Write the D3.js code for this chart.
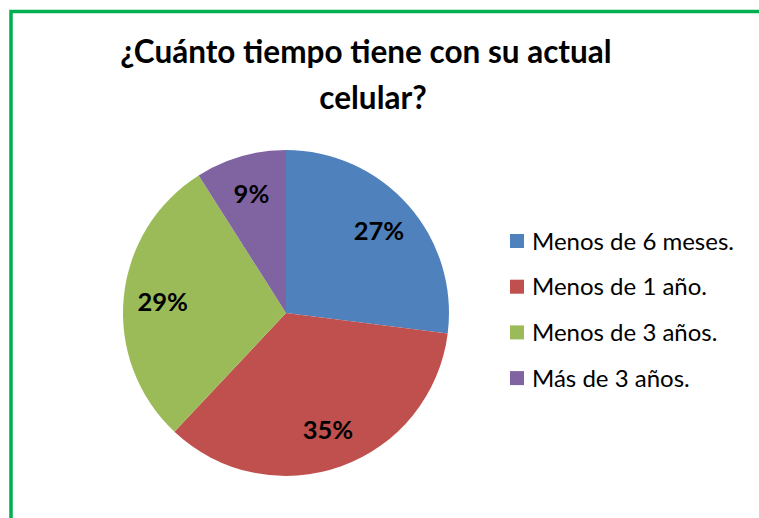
<!DOCTYPE html>
<html>
<head>
<meta charset="utf-8">
<script src="https://cdn.jsdelivr.net/npm/d3@7"></script>
<style>
  body { margin: 0; background: #fff; }
  text { font-family: Lato, "Open Sans", sans-serif; }
</style>
</head>
<body>
<div id="wrapper"></div>
<script>
const categories = ["Menos de 6 meses.", "Menos de 1 año.", "Menos de 3 años.", "Más de 3 años."]
const values = [27, 35, 29, 9]
const colors = ["#4F81BD", "#C0504D", "#9BBB59", "#8064A2"]
const titleLines = ["¿Cuánto tiempo tiene con su actual", "celular?"]

const dimensions = { width: 759, height: 518 }
const pieCenter = { x: 286, y: 313 }
const radius = 163

const svg = d3.select("#wrapper")
  .append("svg")
  .attr("width", dimensions.width)
  .attr("height", dimensions.height)

// green frame (continues past right and bottom edge)
svg.append("rect")
  .attr("x", 11)
  .attr("y", 11.5)
  .attr("width", 800)
  .attr("height", 600)
  .attr("fill", "none")
  .attr("stroke", "#00B050")
  .attr("stroke-width", 3.5)

// title
svg.append("g")
  .selectAll("text")
  .data(titleLines)
  .join("text")
  .attr("x", (d, i) => i === 0 ? 366 : 373)
  .attr("y", (d, i) => 63 + i * 46)
  .attr("text-anchor", "middle")
  .attr("font-size", 31.5)
  .attr("font-weight", "bold")
  .attr("fill", "#000")
  .text(d => d)

const data = values.map((v, i) => ({ name: categories[i], value: v, color: colors[i] }))

const pie = d3.pie()
  .value(d => d.value)
  .sort(null)

const arc = d3.arc()
  .innerRadius(0)
  .outerRadius(radius)

const labelArc = d3.arc()
  .innerRadius(radius * 0.76)
  .outerRadius(radius * 0.76)

const bounds = svg.append("g")
  .attr("transform", `translate(${pieCenter.x}, ${pieCenter.y})`)

const arcs = pie(data)

bounds.selectAll("path")
  .data(arcs)
  .join("path")
  .attr("d", arc)
  .attr("fill", d => d.data.color)

bounds.selectAll("text")
  .data(arcs)
  .join("text")
  .attr("transform", d => `translate(${labelArc.centroid(d)})`)
  .attr("text-anchor", "middle")
  .attr("dy", "0.36em")
  .attr("font-size", 25.5)
  .attr("font-weight", "bold")
  .attr("fill", "#000")
  .text(d => d.data.value + "%")

// legend
const legend = svg.append("g")
  .attr("transform", "translate(510, 241)")

const rows = legend.selectAll("g")
  .data(data)
  .join("g")
  .attr("transform", (d, i) => `translate(0, ${i * 45.7})`)

rows.append("rect")
  .attr("x", 0)
  .attr("y", -7)
  .attr("width", 14)
  .attr("height", 14)
  .attr("fill", d => d.color)

rows.append("text")
  .attr("x", 22)
  .attr("y", 0)
  .attr("dy", "0.36em")
  .attr("font-size", 24)
  .attr("fill", "#000")
  .text(d => d.name)
</script>
</body>
</html>
